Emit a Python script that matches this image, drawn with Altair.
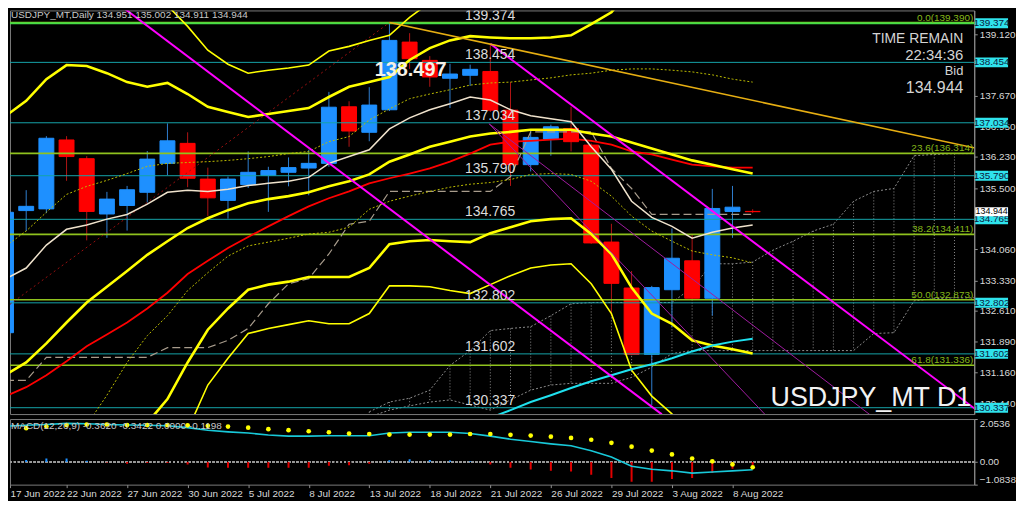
import altair as alt
import pandas as pd

W, H, MH = 970, 406, 66
X_DOM = [0.197, 47.98]
Y_DOM = [130.188, 139.674]
M_DOM = [-1.0838, 2.0536]
FONT = "Liberation Sans"
NARROW = "Liberation Sans Narrow, Liberation Sans"

# ---------------- data ----------------
axis_dates = ["17 Jun 2022", "22 Jun 2022", "27 Jun 2022", "30 Jun 2022", "5 Jul 2022",
              "8 Jul 2022", "13 Jul 2022", "18 Jul 2022", "21 Jul 2022", "26 Jul 2022",
              "29 Jul 2022", "3 Aug 2022", "8 Aug 2022"]
axis_bars = [0.2, 3, 6, 9, 12, 15, 18, 21, 24, 27, 30, 33, 36]

opens = [132.10, 134.97, 135.01, 136.63, 136.19, 134.89, 135.09, 135.40, 136.08, 136.55,
         135.71, 135.21, 135.58, 135.80, 135.87, 135.97, 136.08, 137.41, 136.81, 137.34,
         138.93, 138.50, 138.08, 138.15, 138.24, 137.33, 136.05, 136.65, 136.90, 136.51,
         134.23, 133.15, 131.59, 133.11, 133.79, 132.91, 134.95, 134.951]
highs = [135.42, 135.45, 136.72, 136.72, 136.25, 135.41, 135.55, 136.37, 137.02, 136.81,
         135.98, 135.77, 136.36, 136.00, 136.22, 136.40, 137.76, 137.54, 137.87, 139.39,
         139.14, 138.60, 138.42, 138.40, 138.89, 137.99, 136.86, 136.99, 137.41, 136.55,
         134.66, 133.55, 133.20, 134.55, 134.41, 135.48, 135.55, 135.002]
lows = [131.95, 134.49, 134.91, 135.67, 134.27, 134.33, 134.50, 135.16, 135.80, 135.52,
        134.84, 134.78, 135.50, 134.94, 135.54, 135.33, 136.00, 136.47, 136.60, 137.31,
        138.30, 137.88, 137.38, 137.90, 137.29, 135.55, 135.89, 136.26, 136.36, 134.19,
        132.50, 131.57, 130.40, 132.23, 132.88, 132.50, 134.33, 134.911]
closes = [134.93, 135.07, 136.67, 136.24, 134.95, 135.24, 135.46, 136.18, 136.61, 135.73,
          135.27, 135.71, 135.87, 135.91, 135.98, 136.08, 137.40, 136.84, 137.45, 138.97,
          138.54, 138.11, 138.18, 138.29, 137.33, 136.05, 136.69, 136.94, 136.59, 134.21,
          133.26, 131.59, 133.16, 133.85, 132.91, 135.02, 135.05, 134.944]

bb_upper3 = [140.23, 140.61, 141.17, 141.43, 141.15, 140.70, 140.21, 139.86, 139.79, 139.30,
             138.74, 138.41, 138.20, 138.27, 138.32, 138.39, 138.72, 138.83, 138.97, 139.09,
             139.51, 139.86, 139.98, 140.19, 140.21, 140.21, 140.21, 140.21, 140.23, 140.56,
             141.03, 141.73, 142.20, 142.43, 142.55, 142.55, 142.48, 142.43]
bb_upper2 = [137.20, 137.55, 138.06, 138.39, 138.37, 138.20, 137.99, 137.88, 137.97, 137.71,
             137.41, 137.29, 137.17, 137.24, 137.31, 137.38, 137.64, 137.88, 137.99, 138.11,
             138.51, 138.79, 138.97, 139.07, 139.04, 139.02, 139.02, 139.04, 139.09, 139.35,
             139.63, 140.21, 140.56, 140.68, 140.80, 140.80, 140.75, 140.68]
bb_mid = [131.12, 131.40, 131.85, 132.34, 132.81, 133.18, 133.55, 133.93, 134.25, 134.56,
          134.79, 134.98, 135.14, 135.24, 135.31, 135.40, 135.54, 135.66, 135.82, 136.12,
          136.29, 136.47, 136.59, 136.71, 136.78, 136.82, 136.87, 136.87, 136.87, 136.78,
          136.71, 136.57, 136.43, 136.29, 136.15, 136.05, 135.94, 135.84]
bb_lower2 = [125.05, 125.26, 125.63, 126.29, 127.24, 128.16, 129.11, 129.98, 130.54, 131.40,
             132.17, 132.67, 133.11, 133.23, 133.30, 133.41, 133.41, 133.41, 133.62, 134.18,
             134.25, 134.28, 134.25, 134.23, 134.44, 134.58, 134.72, 134.77, 134.79, 134.42,
             133.95, 133.16, 132.55, 132.31, 131.92, 131.80, 131.71, 131.61]
bb_lower3 = [122.01, 122.17, 122.53, 123.25, 124.46, 125.66, 126.89, 127.99, 128.67, 129.81,
             130.87, 131.50, 132.08, 132.20, 132.29, 132.38, 132.31, 132.31, 132.55, 133.20,
             133.20, 133.18, 133.09, 133.02, 133.23, 133.44, 133.62, 133.69, 133.72, 133.25,
             132.55, 131.22, 130.61, 130.19, 129.81, 129.58, 129.46, 129.35]
ma_red = [130.61, 130.82, 131.10, 131.43, 131.78, 132.06, 132.34, 132.67, 133.04, 133.48,
          133.79, 134.09, 134.35, 134.60, 134.84, 135.07, 135.26, 135.42, 135.61, 135.73,
          135.84, 135.96, 136.12, 136.31, 136.52, 136.59, 136.61, 136.64, 136.66, 136.61,
          136.52, 136.36, 136.29, 136.17, 136.05, 136.01, 135.98, 135.98]
ma_white = [133.37, 133.62, 134.16, 134.53, 134.63, 134.77, 134.88, 135.12, 135.40, 135.45,
            135.42, 135.47, 135.56, 135.61, 135.66, 135.75, 136.08, 136.24, 136.40, 136.89,
            137.15, 137.34, 137.48, 137.64, 137.57, 137.34, 137.20, 137.13, 137.06, 136.47,
            135.94, 135.19, 134.81, 134.60, 134.32, 134.46, 134.56, 134.63]
ma_cyan_start = 23
ma_cyan = [129.93, 130.10, 130.28, 130.47, 130.63, 130.80, 130.96, 131.10, 131.24, 131.36,
           131.50, 131.66, 131.80, 131.89, 131.96]
dot_upper = [134.14, 134.49, 134.93, 135.35, 135.54, 135.68, 135.84, 136.01, 136.08, 136.10,
             136.12, 136.15, 136.19, 136.24, 136.31, 136.36, 136.59, 136.71, 137.10, 137.36,
             137.60, 137.71, 137.81, 137.92, 137.97, 137.99, 138.04, 138.09, 138.16, 138.20,
             138.27, 138.30, 138.30, 138.27, 138.23, 138.16, 138.06, 137.99]
dot_lower_start = 4
dot_lower = [129.93, 130.63, 131.40, 132.03, 132.50, 133.09, 133.51, 133.90, 134.14, 134.23,
             134.32, 134.42, 134.46, 134.58, 135.00, 135.19, 135.31, 135.42, 135.52, 135.59,
             135.63, 135.70, 135.82, 135.84, 135.82, 135.66, 135.31, 134.84, 134.49, 134.25,
             134.02, 133.93, 133.86, 133.74]
kijun = [130.98, 130.98, 131.52, 131.52, 131.52, 131.52, 131.52, 131.52, 131.75, 131.75,
         131.75, 131.92, 132.20, 132.78, 133.25, 133.37, 133.95, 134.65, 134.72, 135.42,
         135.42, 135.42, 135.42, 135.42, 135.42, 135.77, 136.82, 136.82, 136.82, 136.82,
         135.96, 135.49, 134.88, 134.88, 134.88, 134.88, 134.88, 134.88]
cloud_start = 18
span_a = [130.24, 130.47, 130.56, 130.75, 131.33, 131.68, 132.15, 132.20, 132.24, 132.50,
          132.78, 132.81, 132.81, 132.81, 132.81, 132.81, 133.16, 133.72, 133.72, 133.76,
          134.04, 134.25, 134.49, 134.65, 135.19, 135.42, 135.49, 136.26, 136.29, 136.31, 136.31]
span_b = [130.12, 130.28, 130.38, 130.47, 130.52, 130.40, 130.28, 130.52, 130.75, 130.87,
          130.91, 130.91, 130.91, 131.05, 131.29, 131.61, 131.68, 131.68, 131.68, 131.68,
          131.68, 131.68, 131.68, 131.68, 131.68, 132.08, 132.10, 132.85, 132.90, 132.92, 132.92]

hline_prices = [138.454, 137.034, 135.790, 134.765, 132.802, 131.602, 130.337]
top_line_price = 139.374
fib_levels = [0.0, 23.6, 38.2, 50.0, 61.8]
fib_prices = [139.390, 136.314, 134.411, 132.873, 131.336]
bid_price = 134.944
price_ticks = [139.120, 137.670, 136.950, 136.230, 135.500, 134.060,
               133.330, 132.610, 131.890, 131.160, 130.440]

# trend lines: (bar index, price) anchor points
fib_trend_bars, fib_trend_prices = [-18, 19], [126.356, 139.390]
magenta1_bars, magenta1_prices = [5.5, 32.5], [139.85, 130.18]
magenta2_bars, magenta2_prices = [24, 48.1], [138.89, 130.28]
purple1_bars, purple1_prices = [23.94, 37.73], [137.01, 130.12]
purple2_bars, purple2_prices = [23.94, 43.15], [137.01, 130.05]
orange_bars, orange_prices = [19, 48.13], [139.39, 136.43]

macd_main = [1.716, 1.753, 1.790, 1.845, 1.827, 1.790, 1.771, 1.753, 1.734, 1.642,
             1.513, 1.439, 1.384, 1.292, 1.236, 1.236, 1.255, 1.255, 1.255, 1.384,
             1.421, 1.421, 1.421, 1.365, 1.236, 1.089, 0.978, 0.867, 0.775, 0.535,
             0.240, -0.203, -0.351, -0.424, -0.535, -0.480, -0.424, -0.370]
macd_signal = [1.542, 1.616, 1.690, 1.764, 1.790, 1.790, 1.764, 1.764, 1.764, 1.753,
               1.727, 1.690, 1.642, 1.568, 1.520, 1.469, 1.421, 1.358, 1.336, 1.310,
               1.310, 1.310, 1.310, 1.336, 1.336, 1.299, 1.262, 1.210, 1.151, 1.063,
               0.915, 0.731, 0.546, 0.362, 0.166, 0.030, -0.118, -0.251]
macd_hist = [0.129, 0.092, 0.166, 0.166, 0.055, -0.030, -0.081, -0.055, -0.055, -0.118,
             -0.266, -0.277, -0.277, -0.277, -0.277, -0.277, -0.177, -0.155, -0.081, 0.081,
             0.129, 0.092, 0.066, 0.030, -0.118, -0.277, -0.362, -0.424, -0.450, -0.609,
             -0.768, -0.952, -0.941, -0.819, -0.768, -0.524, -0.325, -0.140]
macd_ticks = [2.0536, 0.0, -1.0838]

header_text = "USDJPY_MT,Daily  134.951 135.002 134.911 134.944"
macd_text = "MACD(12,26,9) -0.3620 -0.3422 0.0000 -0.1198"

# ---------------- helpers ----------------
XS = alt.Scale(domain=X_DOM, zero=False, nice=False, padding=0)
YS = alt.Scale(domain=Y_DOM, zero=False, nice=False, padding=0)
MS = alt.Scale(domain=M_DOM, zero=False, nice=False, padding=0)

AXIS_STYLE = dict(labelFont=NARROW, labelFontSize=10, labelColor="#d8d8d8",
                  tickColor="#909090", domainColor="#909090", grid=False, tickSize=3)
Y_AXIS = alt.Axis(orient="right", values=price_ticks, format=".3f", labelPadding=2,
                  **AXIS_STYLE)
label_expr = "[" + ",".join(f"'{d}'" for d in axis_dates) + "][round(datum.value/3)]"
MX_AXIS = alt.Axis(orient="bottom", values=axis_bars, labelExpr=label_expr, labelAlign="left",
                   labelFlush=False, labelOverlap=False, labelBound=False, labelPadding=1,
                   domain=False, **AXIS_STYLE)
MY_AXIS = alt.Axis(orient="right", values=macd_ticks,
                   labelExpr="datum.value == 0 ? '0.00' : format(datum.value, '.4f')",
                   labelFlush=True, labelPadding=2, **AXIS_STYLE)


def X(f):
    return alt.X(f"{f}:Q", scale=XS, axis=None, title=None)


def Y(f):
    return alt.Y(f"{f}:Q", scale=YS, axis=Y_AXIS, title=None)


def MX(f):
    return alt.X(f"{f}:Q", scale=XS, axis=MX_AXIS, title=None)


def MY(f):
    return alt.Y(f"{f}:Q", scale=MS, axis=MY_AXIS, title=None)


def series(values, start=0):
    return pd.DataFrame({"i": list(range(start, start + len(values))), "v": values})


def pts(bars, prices):
    return pd.DataFrame({"i": bars, "v": prices})


def line(df, color, width, dash=None):
    kw = dict(color=color, strokeWidth=width, clip=True)
    if dash:
        kw["strokeDash"] = dash
    return alt.Chart(df).mark_line(**kw).encode(x=X("i"), y=Y("v"))


# ---------------- main panel ----------------
layers = []

cloud = pd.DataFrame({"i": list(range(cloud_start, cloud_start + len(span_a))),
                      "a": span_a, "b": span_b})
layers.append(alt.Chart(cloud).mark_rule(color="#8c8c8c", strokeWidth=1, strokeDash=[1, 2],
                                         clip=True).encode(x=X("i"), y=Y("a"), y2="b"))
layers.append(line(series(span_a, cloud_start), "#8c8c8c", 1, [2, 2]))
layers.append(line(series(span_b, cloud_start), "#8c8c8c", 1, [2, 2]))

cdf = pd.DataFrame({"i": list(range(len(opens))), "o": opens, "h": highs, "l": lows, "c": closes})
bull = "datum.c >= datum.o"
layers.append(alt.Chart(cdf).mark_rule(strokeWidth=1, clip=True).encode(
    x=X("i"), y=Y("l"), y2="h",
    color=alt.condition(bull, alt.value("#2f7fd0"), alt.value("#b01414"))))
body_col = alt.condition(bull, alt.value("#1e90ff"), alt.value("#ff0000"))
layers.append(alt.Chart(cdf).mark_bar(size=15, orient="vertical", clip=True, strokeWidth=1).encode(
    x=X("i"), y=Y("o"), y2="c", color=body_col, stroke=body_col))

# horizontal levels
hl = pd.DataFrame({"p": hline_prices})
layers.append(alt.Chart(hl).mark_rule(color="#15a3a8", strokeWidth=1).encode(y=Y("p")))
fb = pd.DataFrame({"p": fib_prices, "lvl": fib_levels})
fb["t"] = [f"{a:.1f}({b:.3f})" for a, b in zip(fib_levels, fib_prices)]
layers.append(alt.Chart(fb).mark_rule(color="#8fc21e", strokeWidth=1.6).encode(y=Y("p")))
top = pd.DataFrame({"p": [top_line_price]})
layers.append(alt.Chart(top).mark_rule(color="#46dc46", strokeWidth=2).encode(y=Y("p")))

# indicators
layers.append(line(series(kijun), "#a89c8c", 1.2, [8, 4]))
layers.append(line(pts(fib_trend_bars, fib_trend_prices), "#9a1010", 1, [2, 3]))
layers.append(line(series(dot_upper), "#bcbc00", 1, [2, 2]))
layers.append(line(series(dot_lower, dot_lower_start), "#bcbc00", 1, [2, 2]))
layers.append(line(series(bb_upper3), "#ffff00", 1.6))
layers.append(line(series(bb_lower3), "#ffff00", 1.6))
layers.append(line(series(bb_upper2), "#ffff00", 2.6))
layers.append(line(series(bb_lower2), "#ffff00", 2.6))
layers.append(line(series(ma_red), "#ff0000", 1.8))
layers.append(line(series(bb_mid), "#ffff00", 2.6))
layers.append(line(series(ma_white), "#efe2cc", 1.5))
layers.append(line(series(ma_cyan, ma_cyan_start), "#1fe0ee", 2))

# drawn objects
layers.append(line(pts(purple1_bars, purple1_prices), "#a01ca0", 1))
layers.append(line(pts(purple2_bars, purple2_prices), "#a01ca0", 1))
layers.append(line(pts(magenta1_bars, magenta1_prices), "#ff00ff", 2))
layers.append(line(pts(magenta2_bars, magenta2_prices), "#ff00ff", 2))
layers.append(line(pts(orange_bars, orange_prices), "#e6ae12", 1.6))

# texts
all_levels = pd.DataFrame({"p": [top_line_price] + hline_prices})
layers.append(alt.Chart(all_levels).mark_text(
    font=FONT, fontSize=14, color="#dcdcdc", align="center", baseline="alphabetic", dy=-3,
    clip=True
).encode(x=alt.value(483), y=Y("p"), text=alt.Text("p:Q", format=".3f")))
layers.append(alt.Chart(fb).mark_text(
    font=FONT, fontSize=10, color="#86b81a", align="right", baseline="alphabetic", dy=-2,
    clip=True
).encode(x=alt.value(W - 1), y=Y("p"), text="t:N"))

big = pd.DataFrame({"p": [138.497]})
layers.append(alt.Chart(big).mark_text(
    font=FONT, fontSize=20, fontWeight="bold", color="#f6f1e6", align="center", baseline="middle"
).encode(x=alt.value(403), y=alt.value(60), text=alt.Text("p:Q", format=".3f")))

info = pd.DataFrame({"t": ["TIME REMAIN", "22:34:36", "Bid", f"{bid_price:.3f}"],
                     "y": [29, 45, 61, 78], "s": [14, 15, 13, 16]})
for k in range(len(info)):
    layers.append(alt.Chart(info.iloc[[k]]).mark_text(
        font=NARROW, fontSize=int(info.s[k]), color="#d4d4d4", align="right", baseline="middle"
    ).encode(x=alt.value(959), y=alt.value(int(info.y[k])), text="t:N"))

layers.append(alt.Chart(pd.DataFrame({"t": ["USDJPY_MT D1"]})).mark_text(
    font=FONT, fontSize=27, color="#f2f2f2", align="right", baseline="middle"
).encode(x=alt.value(967), y=alt.value(390), text="t:N"))
layers.append(alt.Chart(pd.DataFrame({"t": [header_text]})).mark_text(
    font=NARROW, fontSize=10, color="#c8c8c8", align="left", baseline="top"
).encode(x=alt.value(1), y=alt.value(0), text="t:N"))

# right axis price boxes
boxes = pd.DataFrame({"p": [top_line_price] + hline_prices})
layers.append(alt.Chart(boxes).mark_bar(size=10, orient="horizontal", color="#2fe3ec").encode(
    x=alt.value(W + 1), x2=alt.value(W + 34), y=Y("p")))
layers.append(alt.Chart(boxes).mark_text(font=NARROW, fontSize=10, color="#0a1a40",
                                         align="center", baseline="middle").encode(
    x=alt.value(W + 17.5), y=Y("p"), text=alt.Text("p:Q", format=".3f")))
bid = pd.DataFrame({"p": [bid_price]})
layers.append(alt.Chart(bid).mark_bar(size=9, orient="horizontal", color="#ffffff").encode(
    x=alt.value(W + 1), x2=alt.value(W + 34), y=Y("p")))
layers.append(alt.Chart(bid).mark_text(font=NARROW, fontSize=9, color="#000000", align="center",
                                       baseline="middle", dy=-1).encode(
    x=alt.value(W + 17.5), y=Y("p"), text=alt.Text("p:Q", format=".3f")))

main = alt.layer(*layers).properties(width=W, height=H)

# ---------------- MACD panel ----------------
mdf = pd.DataFrame({"i": list(range(len(macd_main))), "m": macd_main, "s": macd_signal,
                    "h": macd_hist, "z": [0.0] * len(macd_main)})

m_layers = [
    alt.Chart(mdf).mark_rule(color="#9a9a9a", strokeDash=[2, 2], strokeWidth=1).encode(
        y=MY("z")),
    alt.Chart(mdf).mark_rule(strokeWidth=2, clip=True).encode(
        x=MX("i"), y=MY("h"), y2="z",
        color=alt.condition("datum.h >= 0", alt.value("#1e90ff"), alt.value("#e00000"))),
    alt.Chart(mdf).mark_line(color="#18c8d8", strokeWidth=1.6, clip=True).encode(
        x=MX("i"), y=MY("m")),
    alt.Chart(mdf).mark_circle(color="#ffff00", size=22, opacity=1, clip=True).encode(
        x=MX("i"), y=MY("s")),
    alt.Chart(pd.DataFrame({"t": [macd_text]})).mark_text(
        font=NARROW, fontSize=10, color="#c8c8c8", align="left", baseline="top"
    ).encode(x=alt.value(1), y=alt.value(2), text="t:N"),
]
macd = alt.layer(*m_layers).properties(width=W, height=MH)

chart = alt.vconcat(main, macd, spacing=3).properties(
    padding=0, background="#000000"
).configure_view(stroke="#7a7a7a", strokeWidth=1)

chart.save("out.html", embed_options={"renderer": "svg", "actions": False})
